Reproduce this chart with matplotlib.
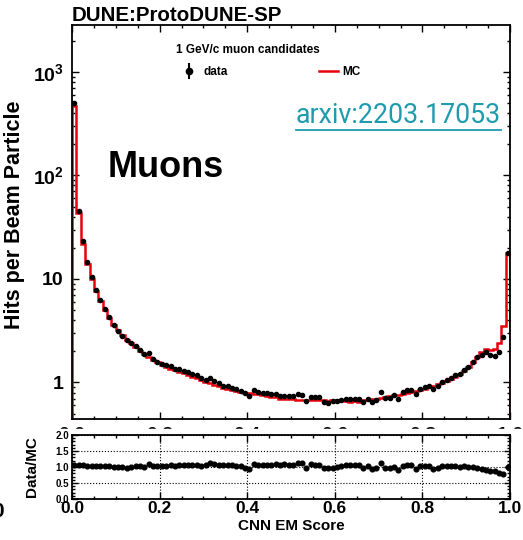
import matplotlib
matplotlib.use("Agg")
import matplotlib.pyplot as plt
import numpy as np
from matplotlib.lines import Line2D
from matplotlib.patches import Rectangle
from matplotlib.legend_handler import HandlerTuple
from matplotlib.ticker import FixedLocator, FixedFormatter, MultipleLocator, LogLocator, NullFormatter

plt.rcParams['font.family'] = 'Liberation Sans'
plt.rcParams['font.weight'] = 'bold'
plt.rcParams['mathtext.fontset'] = 'custom'
plt.rcParams['mathtext.rm'] = 'Liberation Sans:bold'
plt.rcParams['mathtext.it'] = 'Liberation Sans:bold'
plt.rcParams['mathtext.bf'] = 'Liberation Sans:bold'
plt.rcParams['mathtext.default'] = 'rm'

# 100 bins of CNN EM score
bin_edges = np.linspace(0.0, 1.0, 101)

# simulated hits per beam particle
mc_hits = [470, 43, 22, 14, 10, 7.6, 6.1, 5.0, 4.2, 3.6,
           3.2, 2.85, 2.6, 2.4, 2.2, 2.0, 1.87, 1.76, 1.65, 1.56,
           1.48, 1.42, 1.36, 1.31, 1.27, 1.23, 1.18, 1.14, 1.11, 1.06,
           1.01, 0.98, 0.95, 0.92, 0.89, 0.87, 0.85, 0.83, 0.81, 0.80,
           0.79, 0.78, 0.77, 0.76, 0.74, 0.73, 0.72, 0.70, 0.69, 0.70,
           0.69, 0.68, 0.67, 0.68, 0.67, 0.67, 0.68, 0.67, 0.66, 0.67,
           0.66, 0.67, 0.66, 0.65, 0.66, 0.65, 0.67, 0.68, 0.69, 0.70,
           0.71, 0.73, 0.74, 0.75, 0.76, 0.78, 0.80, 0.81, 0.83, 0.85,
           0.87, 0.90, 0.93, 0.96, 0.99, 1.03, 1.08, 1.13, 1.20, 1.30,
           1.42, 1.58, 1.78, 1.98, 2.12, 2.08, 2.10, 2.40, 3.50, 18.0]

# measured hits per beam particle
data_hits = [498, 45.2, 23.1, 14.6, 10.4, 7.90, 6.28, 5.15, 4.28, 3.60,
             3.17, 2.82, 2.55, 2.40, 2.24, 2.06, 1.89, 1.92, 1.70, 1.59,
             1.51, 1.48, 1.43, 1.36, 1.35, 1.29, 1.26, 1.20, 1.18, 1.10,
             1.06, 1.10, 1.045, 0.984, 0.935, 0.922, 0.893, 0.863, 0.834, 0.784,
             0.735, 0.850, 0.816, 0.798, 0.784, 0.781, 0.778, 0.742, 0.745, 0.735,
             0.738, 0.768, 0.750, 0.666, 0.730, 0.717, 0.728, 0.650, 0.640, 0.657,
             0.660, 0.683, 0.693, 0.696, 0.693, 0.696, 0.650, 0.694, 0.642, 0.679,
             0.809, 0.708, 0.710, 0.758, 0.699, 0.811, 0.840, 0.851, 0.772, 0.867,
             0.896, 0.918, 0.874, 0.922, 1.010, 1.061, 1.102, 1.175, 1.200, 1.326,
             1.406, 1.580, 1.744, 1.861, 1.950, 1.851, 1.806, 1.968, 2.73, 18.0]

centers = 0.5 * (bin_edges[:-1] + bin_edges[1:])
ratio = np.array(data_hits) / np.array(mc_hits)

fig = plt.figure(figsize=(5.23, 5.40), dpi=100)
ax = fig.add_axes([0.1377, 0.2241, 0.8375, 0.7296])
rax = fig.add_axes([0.1377, 0.0759, 0.8375, 0.1185])
rax.set_zorder(3)

# upper pad: hit distributions
ax.stairs(mc_hits, bin_edges, color='#e8000b', lw=1.8, baseline=1e-3, zorder=2)
ax.plot(centers, data_hits, 'o', color='black', ms=3.0, zorder=3)
ax.set_yscale('log')
ax.set_xlim(0, 1)
ax.set_ylim(0.444, 2840)
ax.yaxis.set_major_locator(FixedLocator([1, 10, 100, 1000]))
ax.yaxis.set_major_formatter(FixedFormatter(['1', '10', r'$10^{2}$', r'$10^{3}$']))
ax.yaxis.set_minor_locator(LogLocator(base=10, subs=np.arange(2, 10)))
ax.yaxis.set_minor_formatter(NullFormatter())
ax.xaxis.set_major_locator(MultipleLocator(0.2))
ax.xaxis.set_minor_locator(MultipleLocator(0.05))
ax.tick_params(which='both', direction='in', top=True, right=True, width=1.0)
ax.tick_params(which='major', length=5, labelsize=14, pad=6)
ax.tick_params(which='minor', length=2.5)
for sp in ax.spines.values():
    sp.set_linewidth(1.3)
ax.set_ylabel('Hits per Beam Particle', fontsize=15.5, fontweight='bold')
ax.yaxis.set_label_coords(-0.107, 0.518)

fig.text(0.1377, 0.962, 'DUNE:ProtoDUNE-SP', fontsize=14.8, fontweight='bold',
         ha='left', va='baseline')
ax.text(0.082, 0.615, 'Muons', transform=ax.transAxes, fontsize=26,
        fontweight='bold', ha='left', va='baseline')
link = ax.text(0.979, 0.752, 'arxiv:2203.17053', transform=ax.transAxes,
               fontsize=19.3, fontfamily='Roboto', fontweight='normal',
               color='#1f9bad', ha='right', va='baseline')

# legend: header line plus the two entries
fig.text(0.474, 0.908, '1 GeV/c muon candidates', fontsize=8.5,
         fontweight='bold', ha='center', va='center')
h_data = (Line2D([], [], ls='none', marker='|', ms=11, mew=1.5, color='black'),
          Line2D([], [], ls='none', marker='o', ms=4.5, color='black'))
h_mc = Line2D([], [], color='#e8000b', lw=1.8)
leg = ax.legend([h_data, h_mc], ['data', 'MC'], ncol=2, frameon=False,
                loc='upper left', bbox_to_anchor=(0.2466, 0.896), fontsize=8.5,
                handler_map={tuple: HandlerTuple(ndivide=1)},
                columnspacing=7.7, handlelength=1.6, handletextpad=0.4,
                borderaxespad=0.0, borderpad=0.0)

# strip hiding most of the upper x labels
fig.add_artist(Rectangle((0.0, 0.0759), 1.0, 0.1185 + 0.012,
                         transform=fig.transFigure, color='white', zorder=1))
# clipped label fragment at the left edge
fig.text(-0.016, 0.052, '0', fontsize=15, fontweight='bold', ha='left', va='center')

# lower pad: data/MC ratio
rax.plot(centers, ratio, 'o', color='black', ms=3.4)
rax.set_xlim(0, 1)
rax.set_ylim(0, 2)
rax.xaxis.set_major_locator(MultipleLocator(0.2))
rax.xaxis.set_minor_locator(MultipleLocator(0.05))
rax.yaxis.set_major_locator(MultipleLocator(0.5))
rax.yaxis.set_minor_locator(MultipleLocator(0.1))
rax.yaxis.set_major_formatter(matplotlib.ticker.FormatStrFormatter('%.1f'))
rax.xaxis.set_major_formatter(matplotlib.ticker.FormatStrFormatter('%.1f'))
rax.grid(True, which='major', ls=':', color='black', lw=0.8)
rax.tick_params(which='both', direction='in', top=True, right=True, width=1.0)
rax.tick_params(axis='x', which='major', length=5, labelsize=12.5, pad=1.5)
rax.tick_params(axis='y', which='major', length=4, labelsize=7, pad=2)
rax.tick_params(which='minor', length=2)
for sp in rax.spines.values():
    sp.set_linewidth(1.3)
rax.set_xlabel('CNN EM Score', fontsize=11, fontweight='bold', labelpad=2)
rax.set_ylabel('Data/MC', fontsize=11, fontweight='bold')
rax.yaxis.set_label_coords(-0.075, 0.5)

# underline for the arXiv reference
fig.canvas.draw()
bb = link.get_window_extent()
H = fig.bbox.height
uy = bb.y0 - 1
fig.add_artist(Line2D([bb.x0 / fig.bbox.width, bb.x1 / fig.bbox.width],
                      [uy / H, uy / H], transform=fig.transFigure,
                      color='#1f9bad', lw=1.3))

fig.savefig('out.png', dpi=100)
